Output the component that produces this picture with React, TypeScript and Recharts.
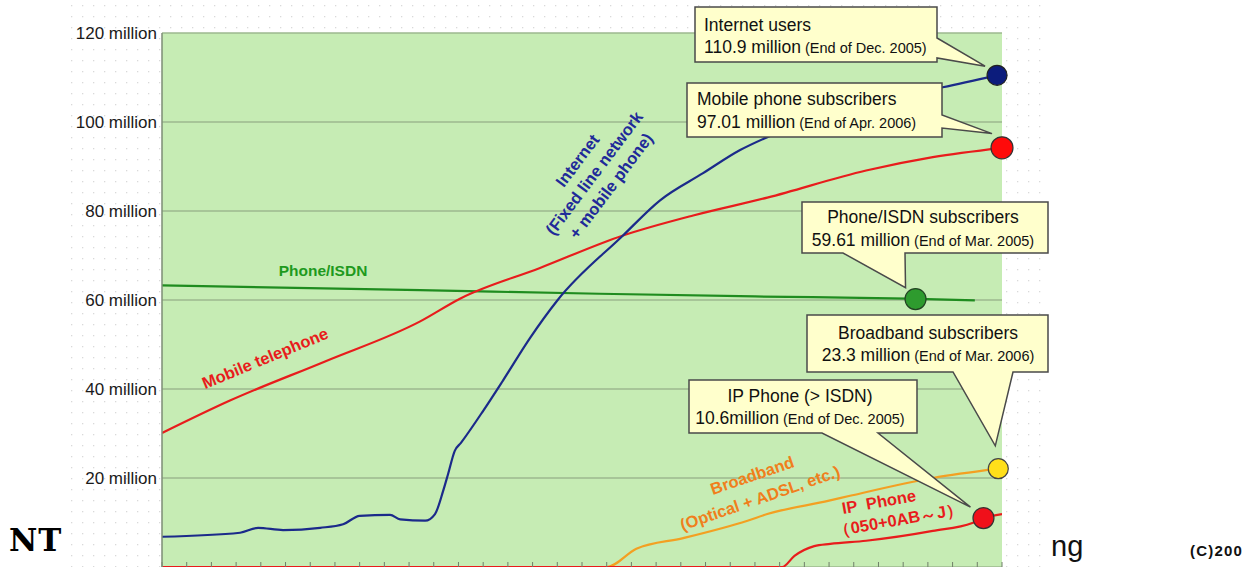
import React from 'react';
import { LineChart, Line, XAxis, YAxis, CartesianGrid, ReferenceDot } from 'recharts';

// ---------- layout ----------
const W = 1250;
const H = 567;
const MARGIN = { top: 33, right: 248, bottom: 0, left: 0 };
const Y_AXIS_W = 162;
const X_AXIS_H = 1;
const X_DOMAIN: [number, number] = [0, 34];
const Y_DOMAIN: [number, number] = [0, 120];

// ---------- data (x = quarter index, y = millions) ----------
const yTicks = [20, 40, 60, 80, 100, 120];
const quarterTicks = [0, 1, 2, 3, 4, 5, 6, 7, 8, 9, 10, 11, 12, 13, 14, 15, 16, 17, 18, 19, 20, 21, 22, 23, 24, 25, 26, 27, 28, 29, 30, 31, 32, 33, 34];

const internetQ = [0, 3.16, 3.89, 4.9, 6.4, 7.33, 8.0, 9.23, 9.64, 10.65, 11.05, 11.38, 11.58, 11.85, 12.1, 13.0, 13.8, 14.9, 16.0, 18.66, 20.16, 21.9, 23.4, 24.5, 26.6, 29.0, 31.6, 33.8];
const internetV = [6.8, 7.7, 8.8, 8.3, 8.8, 9.6, 11.5, 11.7, 10.7, 10.4, 11.9, 17.1, 20.9, 26.1, 27.9, 35.1, 41.9, 51.5, 59.9, 74.5, 82.4, 88.5, 93.7, 96.6, 101.0, 105.0, 107.8, 110.5];

const mobileQ = [0, 2.75, 6.6, 10.45, 12.06, 15.3, 18.66, 21.5, 24.5, 28.5, 31.2, 34];
const mobileV = [30.1, 37.4, 46.2, 55.2, 60.3, 67.2, 74.5, 79.0, 83.0, 89.1, 92.1, 94.2];

const isdnQ = [0, 10.45, 17.7, 24, 30.2, 32.9];
const isdnV = [63.3, 62.2, 61.4, 60.8, 60.3, 59.9];

const broadbandQ = [0, 18.0, 19.2, 21.1, 23.7, 24.5, 27.0, 27.85, 31.2, 33.85];
const broadbandV = [0, 0, 4.1, 6.5, 10.4, 11.9, 14.9, 16.0, 20.0, 22.1];

const ipQ = [0, 25.1, 25.6, 26.4, 27.05, 28.5, 31.2, 32.8, 33.25, 34];
const ipV = [0, 0, 2.5, 4.7, 5.2, 5.9, 8.1, 9.9, 11.0, 11.9];

// highlighted points [q, value]
const internetDot = [33.8, 110.5];
const mobileDot = [34, 94.2];
const isdnDot = [30.5, 60.2];
const broadbandDot = [33.85, 22.1];
const ipDot = [33.25, 11.0];

const zip = (qs: number[], vs: number[]) => qs.map((q, i) => ({ q, v: vs[i] }));

// ---------- colours ----------
const C_INTERNET = '#1b2a8a';
const C_MOBILE = '#e81c1c';
const C_ISDN = '#1f8c1f';
const C_BB = '#f3a022';
const C_IP = '#e81c1c';
const FONT = '"Liberation Sans", Arial, Helvetica, sans-serif';

// same linear mapping the chart uses (for callout tails)
const plotLeft = MARGIN.left + Y_AXIS_W;
const plotRight = W - MARGIN.right;
const plotTop = MARGIN.top;
const plotBottom = H - MARGIN.bottom - X_AXIS_H;
const sx = (q: number) => plotLeft + ((q - X_DOMAIN[0]) / (X_DOMAIN[1] - X_DOMAIN[0])) * (plotRight - plotLeft);
const sy = (v: number) => plotBottom - ((v - Y_DOMAIN[0]) / (Y_DOMAIN[1] - Y_DOMAIN[0])) * (plotBottom - plotTop);

type Callout = {
  title: string;
  value: string;
  note: string;
  box: { x: number; y: number; w: number; h: number };
  side: 'right' | 'bottom';
  a: number;
  b: number;
  dot: number[];
  off: [number, number];
  anchor: 'start' | 'middle';
  tx: number;
  base: [number, number];
};

const callouts: Callout[] = [
  { title: 'Internet users', value: '110.9 million', note: ' (End of Dec. 2005)', box: { x: 695, y: 7, w: 242, h: 55 }, side: 'right', a: 38, b: 58, dot: internetDot, off: [-12, -9], anchor: 'start', tx: 704, base: [31, 53] },
  { title: 'Mobile phone subscribers', value: '97.01 million', note: ' (End of Apr. 2006)', box: { x: 687, y: 83, w: 255, h: 54 }, side: 'right', a: 115, b: 128, dot: mobileDot, off: [-10, -14], anchor: 'start', tx: 697, base: [105, 128] },
  { title: 'Phone/ISDN subscribers', value: '59.61 million', note: ' (End of Mar. 2005)', box: { x: 802, y: 202, w: 246, h: 51 }, side: 'bottom', a: 843, b: 905, dot: isdnDot, off: [-10, -11], anchor: 'middle', tx: 923, base: [223, 246] },
  { title: 'Broadband subscribers', value: '23.3 million', note: ' (End of Mar. 2006)', box: { x: 807, y: 315, w: 241, h: 57 }, side: 'bottom', a: 953, b: 1013, dot: broadbandDot, off: [-3, -22], anchor: 'middle', tx: 928, base: [339, 361] },
  { title: 'IP Phone (> ISDN)', value: '10.6million', note: ' (End of Dec. 2005)', box: { x: 689, y: 380, w: 228, h: 53 }, side: 'bottom', a: 822, b: 878, dot: ipDot, off: [-13, -10], anchor: 'middle', tx: 800, base: [402, 424] },
];

function calloutPath(c: Callout) {
  const { x, y, w, h } = c.box;
  const tipX = sx(c.dot[0]) + c.off[0];
  const tipY = sy(c.dot[1]) + c.off[1];
  if (c.side === 'right') {
    return `M${x},${y} H${x + w} V${c.a} L${tipX},${tipY} L${x + w},${c.b} V${y + h} H${x} Z`;
  }
  return `M${x},${y} H${x + w} V${y + h} H${c.b} L${tipX},${tipY} L${c.a},${y + h} H${x} Z`;
}

const YTick = (props: any) => {
  const { x, y, payload } = props;
  return (
    <text x={x} y={y} dy="0.36em" textAnchor="end" fill="#1a1a1a" fontSize={17} fontFamily={FONT}>
      {`${payload.value} million`}
    </text>
  );
};

const EmptyTick = () => <g />;

const Overlay = () => (
  <svg width={W} height={H} style={{ position: 'absolute', left: 0, top: 0, pointerEvents: 'none' }}>
    {/* series labels */}
    <text x={323} y={270} textAnchor="middle" dominantBaseline="central" fontSize={15.5} fontWeight="bold" fill="#1e9a1e" fontFamily={FONT}>
      Phone/ISDN
    </text>
    <text x={265} y={358} textAnchor="middle" dominantBaseline="central" fontSize={16.5} fontWeight="bold" fill={C_MOBILE} fontFamily={FONT} transform="rotate(-22.5 265 358)">
      Mobile telephone
    </text>
    <g transform="translate(594 173) rotate(-53)" fontFamily={FONT} fontWeight="bold" fontSize={16.5} fill="#1f2a99">
      <text x={0} y={-21} textAnchor="middle" dominantBaseline="central">Internet</text>
      <text x={0} y={0} textAnchor="middle" dominantBaseline="central">(Fixed line network</text>
      <text x={0} y={21} textAnchor="middle" dominantBaseline="central">+ mobile phone)</text>
    </g>
    <g transform="translate(756 486.5) rotate(-19)" fontFamily={FONT} fontWeight="bold" fontSize={16.5} fill="#f07f1c">
      <text x={0} y={-12} textAnchor="middle" dominantBaseline="central">Broadband</text>
      <text x={0} y={12} textAnchor="middle" dominantBaseline="central">(Optical + ADSL, etc.)</text>
    </g>
    <g transform="translate(888.5 510.5) rotate(-10)" fontFamily={FONT} fontWeight="bold" fontSize={16.5} fill={C_IP}>
      <text x={-8} y={-10.5} textAnchor="middle" dominantBaseline="central" style={{ whiteSpace: 'pre' }}>IP  Phone</text>
      <text x={8} y={10.5} textAnchor="middle" dominantBaseline="central">{'\uFF08050+0AB\uFF5EJ\uFF09'}</text>
    </g>

    {/* callouts */}
    {callouts.map((c, i) => (
      <g key={i}>
        <path d={calloutPath(c)} fill="#ffffcc" stroke="#4a4a4a" strokeWidth={1.5} strokeLinejoin="miter" />
        <text x={c.tx} y={c.base[0]} textAnchor={c.anchor} fontSize={17.5} fill="#111" fontFamily={FONT}>
          {c.title}
        </text>
        <text x={c.tx} y={c.base[1]} textAnchor={c.anchor} fontSize={17.5} fill="#111" fontFamily={FONT}>
          {c.value}
          <tspan fontSize={14.5}>{c.note}</tspan>
        </text>
      </g>
    ))}
  </svg>
);

const Background = () => (
  <svg width={W} height={H} style={{ position: 'absolute', left: 0, top: 0 }}>
    <defs>
      <pattern id="dots" width={11} height={11} patternUnits="userSpaceOnUse">
        <rect x={5} y={5} width={1.3} height={1.3} fill="#cfcfcf" />
      </pattern>
    </defs>
    <rect x={0} y={0} width={W} height={H} fill="#ffffff" />
    <rect x={66} y={0} width={984} height={H} fill="url(#dots)" opacity={0.8} />
  </svg>
);

export default function App() {
  return (
    <div style={{ position: 'absolute', left: 0, top: 0, width: W, height: H, overflow: 'hidden', background: '#fff', fontFamily: FONT }}>
      <Background />
      <div style={{ position: 'absolute', left: 0, top: 0 }}>
        <LineChart width={W} height={H} margin={MARGIN}>
          <CartesianGrid vertical={false} fill="#c6ecb4" stroke="#9db88f" strokeWidth={1.5} />
          <XAxis
            type="number"
            dataKey="q"
            domain={X_DOMAIN}
            ticks={quarterTicks}
            interval={0}
            height={X_AXIS_H}
            mirror
            tick={<EmptyTick />}
            tickSize={5}
            tickLine={{ stroke: '#6f7f68', strokeWidth: 1 }}
            axisLine={false}
            allowDataOverflow
          />
          <YAxis
            type="number"
            domain={Y_DOMAIN}
            ticks={yTicks}
            width={Y_AXIS_W}
            tickSize={0}
            tickMargin={5}
            tickLine={false}
            axisLine={{ stroke: '#7c8c76', strokeWidth: 1.5 }}
            tick={<YTick />}
            allowDataOverflow
          />
          <Line data={zip(isdnQ, isdnV)} dataKey="v" type="monotone" stroke={C_ISDN} strokeWidth={2.2} dot={false} isAnimationActive={false} />
          <Line data={zip(broadbandQ, broadbandV)} dataKey="v" type="monotone" stroke={C_BB} strokeWidth={2.2} dot={false} isAnimationActive={false} />
          <Line data={zip(ipQ, ipV)} dataKey="v" type="monotone" stroke={C_IP} strokeWidth={2.2} dot={false} isAnimationActive={false} />
          <Line data={zip(mobileQ, mobileV)} dataKey="v" type="monotone" stroke={C_MOBILE} strokeWidth={2.2} dot={false} isAnimationActive={false} />
          <Line data={zip(internetQ, internetV)} dataKey="v" type="monotone" stroke={C_INTERNET} strokeWidth={2.2} dot={false} isAnimationActive={false} />
          <ReferenceDot x={internetDot[0]} y={internetDot[1]} r={10} fill="#0c1c7c" stroke="#222" strokeWidth={1.2} ifOverflow="visible" />
          <ReferenceDot x={mobileDot[0]} y={mobileDot[1]} r={11} fill="#ff0a0a" stroke="#333" strokeWidth={1.2} ifOverflow="visible" />
          <ReferenceDot x={isdnDot[0]} y={isdnDot[1]} r={10.5} fill="#2e9b2e" stroke="#224422" strokeWidth={1.2} ifOverflow="visible" />
          <ReferenceDot x={broadbandDot[0]} y={broadbandDot[1]} r={10} fill="#ffdf1a" stroke="#444" strokeWidth={1.2} ifOverflow="visible" />
          <ReferenceDot x={ipDot[0]} y={ipDot[1]} r={10.5} fill="#f0101a" stroke="#333" strokeWidth={1.2} ifOverflow="visible" />
        </LineChart>
      </div>
      <Overlay />
      <div style={{ position: 'absolute', left: 9, top: 520, fontFamily: '"DejaVu Serif", serif', fontWeight: 900, fontSize: 31, letterSpacing: 1, color: '#000', lineHeight: '40px' }}>NT</div>
      <div style={{ position: 'absolute', left: 1051, top: 526, fontFamily: FONT, fontSize: 29, color: '#111', lineHeight: '40px' }}>ng</div>
      <div style={{ position: 'absolute', left: 1190, top: 541, fontFamily: FONT, fontWeight: 'bold', fontSize: 15, letterSpacing: 1.2, color: '#111', lineHeight: '20px', whiteSpace: 'nowrap' }}>(C)200</div>
    </div>
  );
}
